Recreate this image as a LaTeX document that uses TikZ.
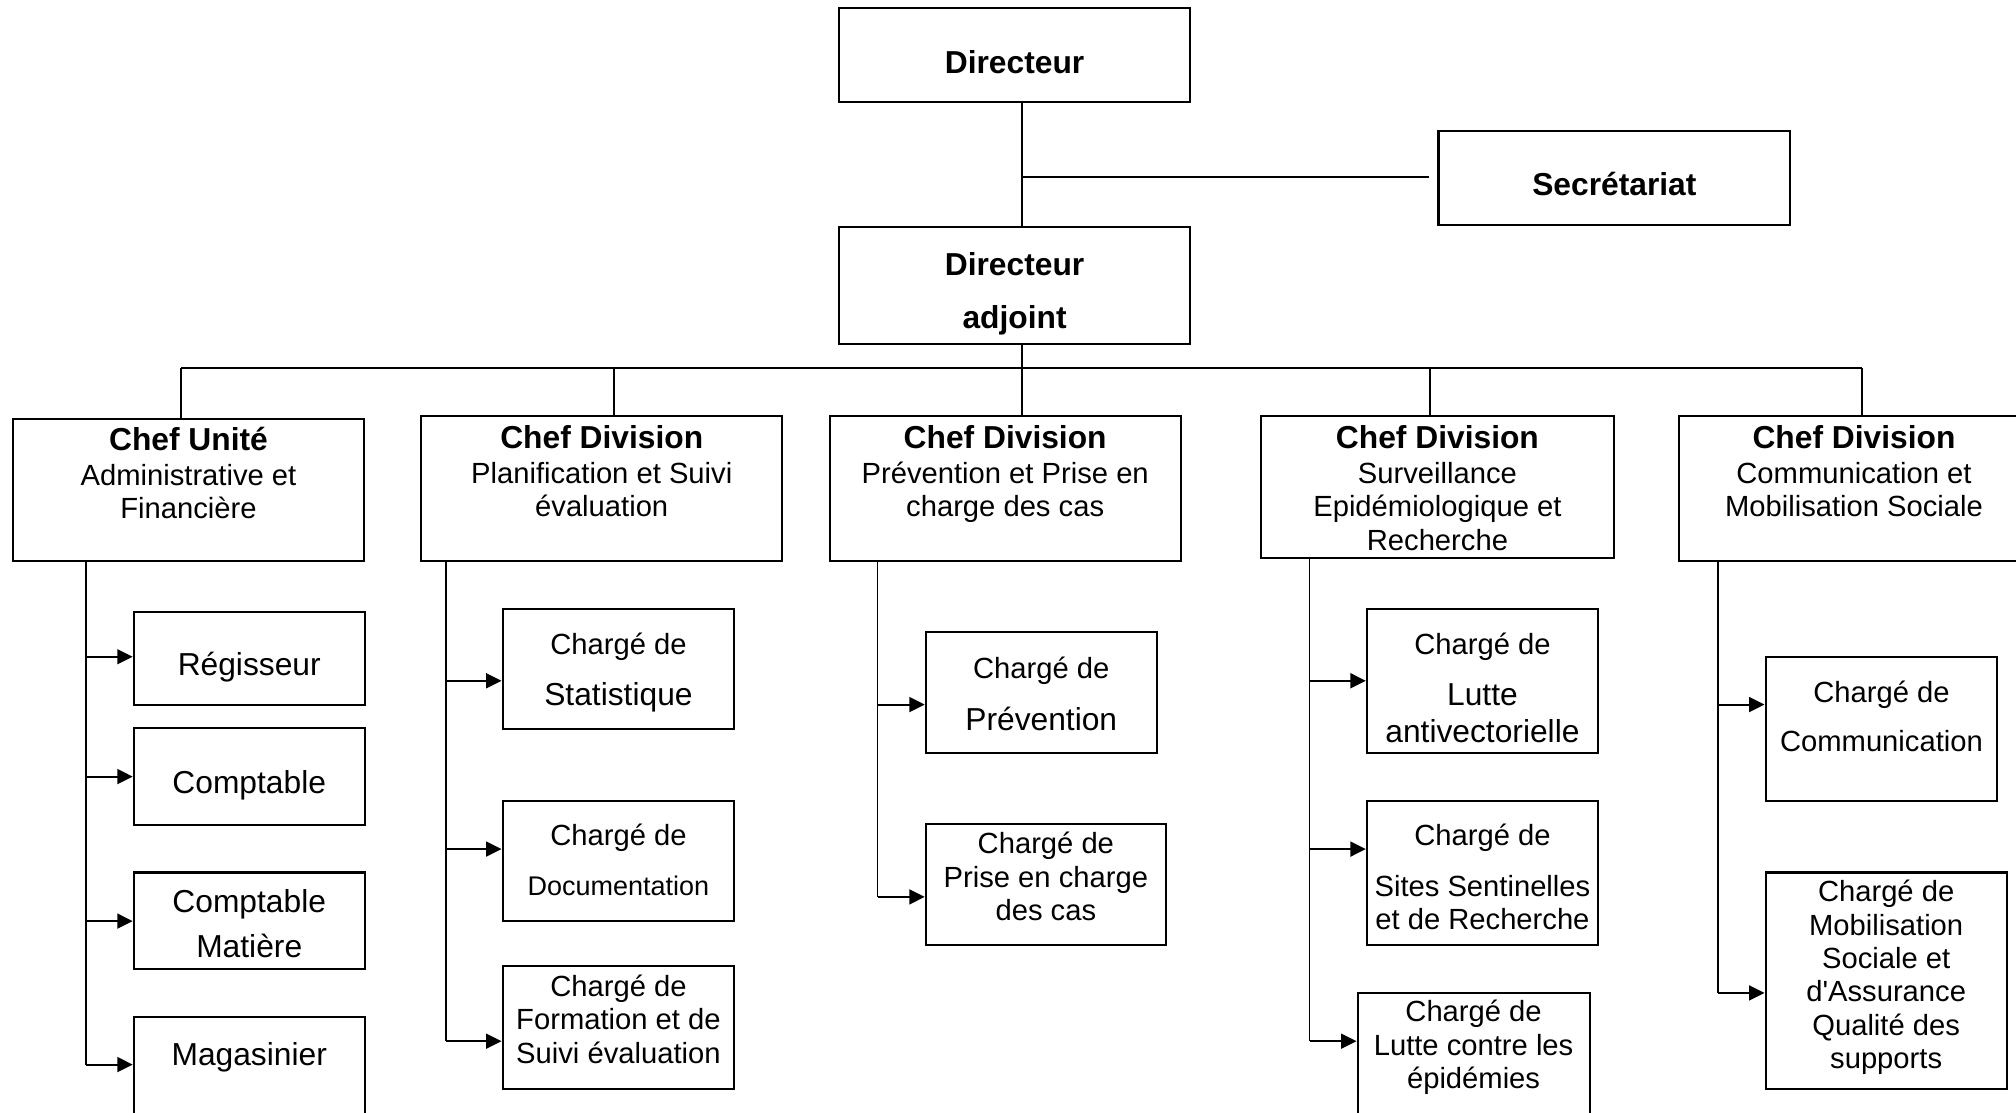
\documentclass[tikz,border=0pt]{standalone}
\usepackage{fontspec}
\setmainfont{Liberation Sans}
\usetikzlibrary{arrows.meta}
\newcommand\fS{\fontsize{11.35pt}{13pt}\selectfont}
\newcommand\fL{\fontsize{12.35pt}{13pt}\selectfont}
\newcommand\fD{\fontsize{10.5pt}{13pt}\selectfont}
\newcommand\orgbox[5]{%
  \node[box, minimum width={(#4-#2)*0.5pt}, minimum height={(#5-#3)*0.5pt}]
    (#1) at ({(#2+#4)/2},{(#3+#5)/2}) {};}
\tikzset{
  box/.style={draw, line width=0.8pt, inner sep=0pt, fill=white},
  link/.style={line width=0.75pt},
  arr/.style={line width=0.75pt, -{Triangle[length=6pt,width=5.8pt]}},
  txt/.style={anchor=base, align=center, inner sep=0pt, font=\fS, yshift=-0.75pt},
  btxt/.style={anchor=base, align=center, inner sep=0pt, font=\fL\bfseries, yshift=-0.75pt},
  ltxt/.style={anchor=base, align=center, inner sep=0pt, font=\fL, yshift=-0.75pt},
}
\begin{document}
\begin{tikzpicture}[x=0.5pt, y=-0.5pt]
\clip (0,0) rectangle (1568,865);
\fill[white] (0,0) rectangle (1568,865);

% boxes
\orgbox{dir}{652.5}{6.5}{925.8}{79.1}
\orgbox{sec}{1118.8}{101.9}{1392.5}{175}
\orgbox{adj}{652.5}{176.3}{925.8}{267.8}
\orgbox{h1}{9.9}{326.1}{283.3}{436.3}
\orgbox{h2}{327.8}{323.6}{608.3}{436.3}
\orgbox{h3}{645.2}{323.6}{918.4}{436.3}
\orgbox{h4}{981.1}{323.6}{1255}{433.7}
\orgbox{h5}{1305.6}{323.6}{1578.4}{436.3}
\orgbox{c11}{104}{475.7}{283.7}{548}
\orgbox{c12}{104}{566.5}{283.7}{641.7}
\orgbox{c13}{104}{678.6}{283.7}{753.6}
\orgbox{c14}{104}{790.8}{283.7}{872}
\orgbox{c21}{390.9}{473.5}{571}{566.7}
\orgbox{c22}{390.9}{622.7}{571}{716.1}
\orgbox{c23}{390.9}{751.2}{571}{847}
\orgbox{c31}{720}{491.8}{899.7}{585.7}
\orgbox{c32}{720}{641.1}{906.9}{735.1}
\orgbox{c41}{1063.1}{473.5}{1242.9}{585.7}
\orgbox{c42}{1063.1}{622.7}{1242.9}{735.1}
\orgbox{c43}{1055.9}{772}{1236.3}{880}
\orgbox{c51}{1373.2}{510.8}{1553.5}{622.9}
\orgbox{c52}{1373.2}{678.6}{1560.8}{847}

% texts (base anchor = baseline of the last line)
\node[btxt] (dir-t) at (789.1,55.7) {Directeur};
\node[btxt] (sec-t) at (1255.6,150.4) {Secrétariat};
\node[btxt] (adj-t) at (789.1,254.1) {Directeur\\[7.5pt]adjoint};
\node[txt] (h1-t) at (146.6,401.9) {{\fL\bfseries Chef Unité}\\[0.6pt]Administrative et\\Financière};
\node[txt] (h2-t) at (468,400.6) {{\fL\bfseries Chef Division}\\[0.6pt]Planification et Suivi\\évaluation};
\node[txt] (h3-t) at (781.8,400.3) {{\fL\bfseries Chef Division}\\[0.6pt]Prévention et Prise en\\charge des cas};
\node[txt] (h4-t) at (1118,426.5) {{\fL\bfseries Chef Division}\\[0.6pt]Surveillance\\Epidémiologique et\\Recherche};
\node[txt] (h5-t) at (1442,400.6) {{\fL\bfseries Chef Division}\\[0.6pt]Communication et\\Mobilisation Sociale};

\node[ltxt] (c11-t) at (193.85,523.7) {Régisseur};
\node[ltxt] (c12-t) at (193.85,616) {Comptable};
\node[ltxt] (c13-t) at (193.85,743.6) {Comptable\\[4.6pt]Matière};
\node[ltxt] (c14-t) at (193.85,827.2) {Magasinier};
\node[txt] (c21-t) at (481,547.5) {Chargé de\\[7.1pt]{\fL Statistique}};
\node[txt] (c22-t) at (481,695.3) {Chargé de\\[6.45pt]{\fD Documentation}};
\node[txt] (c23-t) at (481,825.4) {Chargé de\\Formation et de\\Suivi évaluation};
\node[txt] (c31-t) at (809.85,566.5) {Chargé de\\[7.1pt]{\fL Prévention}};
\node[txt] (c32-t) at (813.45,714.5) {Chargé de\\Prise en charge\\des cas};
\node[txt] (c41-t) at (1153,576) {Chargé de\\[7.1pt]{\fL Lutte}\\[1.2pt]{\fL antivectorielle}};
\node[txt] (c42-t) at (1153,721.6) {Chargé de\\[6.8pt]Sites Sentinelles\\et de Recherche};
\node[txt] (c43-t) at (1146.1,845.2) {Chargé de\\Lutte contre les\\épidémies};
\node[txt] (c51-t) at (1463.35,583.1) {Chargé de\\[6.2pt]Communication};
\node[txt] (c52-t) at (1467,829.8) {Chargé de\\Mobilisation\\Sociale et\\d\textquotesingle Assurance\\Qualité des\\supports};

% top connectors
\coordinate (m1) at (794.8,137.4);
\draw[link] (dir.south -| m1) -- (adj.north -| m1);
\draw[link, shorten >=3.2pt] (m1) -- (m1 -| sec.west);

% bus
\coordinate (b1) at (140.9,286.5);
\coordinate (b2) at (477.4,286.5);
\coordinate (b3) at (794.8,286.5);
\coordinate (b4) at (1112,286.5);
\coordinate (b5) at (1447.9,286.5);
\draw[link] (adj.south -| b3) -- (b3);
\draw[link] (b1) -- (b5);
\draw[link] (b1) -- (b1 |- h1.north);
\draw[link] (b2) -- (b2 |- h2.north);
\draw[link] (b3) -- (b3 |- h3.north);
\draw[link] (b4) -- (b4 |- h4.north);
\draw[link] (b5) -- (b5 |- h5.north);

% column 1
\coordinate (a11) at (66.7,510.8);
\coordinate (a12) at (66.7,604);
\coordinate (a13) at (66.7,716.4);
\coordinate (a14) at (66.7,828);
\draw[link] (h1.south -| a11) -- (a14);
\draw[arr] (a11) -- (a11 -| c11.west);
\draw[arr] (a12) -- (a12 -| c12.west);
\draw[arr] (a13) -- (a13 -| c13.west);
\draw[arr] (a14) -- (a14 -| c14.west);

% column 2
\coordinate (a21) at (347,529.5);
\coordinate (a22) at (347,660.4);
\coordinate (a23) at (347,809.8);
\draw[link] (h2.south -| a21) -- (a23);
\draw[arr] (a21) -- (a21 -| c21.west);
\draw[arr] (a22) -- (a22 -| c22.west);
\draw[arr] (a23) -- (a23 -| c23.west);

% column 3
\coordinate (a31) at (682.5,548);
\coordinate (a32) at (682.5,697.6);
\draw[link] (h3.south -| a31) -- (a32);
\draw[arr] (a31) -- (a31 -| c31.west);
\draw[arr] (a32) -- (a32 -| c32.west);

% column 4
\coordinate (a41) at (1018.5,529.5);
\coordinate (a42) at (1018.5,660.4);
\coordinate (a43) at (1018.5,809.8);
\draw[link] (h4.south -| a41) -- (a43);
\draw[arr] (a41) -- (a41 -| c41.west);
\draw[arr] (a42) -- (a42 -| c42.west);
\draw[arr] (a43) -- (a43 -| c43.west);

% column 5
\coordinate (a51) at (1336.4,548);
\coordinate (a52) at (1336.4,772.3);
\draw[link] (h5.south -| a51) -- (a52);
\draw[arr] (a51) -- (a51 -| c51.west);
\draw[arr] (a52) -- (a52 -| c52.west);
\end{tikzpicture}
\end{document}
